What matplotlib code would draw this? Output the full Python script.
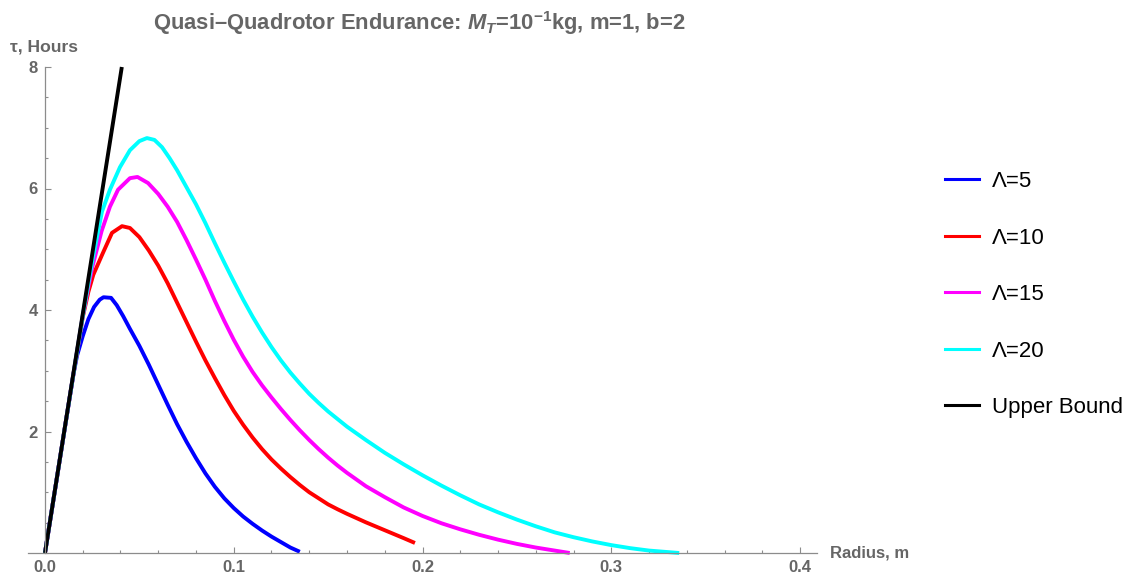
import matplotlib
matplotlib.use("Agg")
import matplotlib.pyplot as plt
from matplotlib.lines import Line2D
from matplotlib.ticker import MultipleLocator, FixedLocator

plt.rcParams['font.family'] = ['Liberation Sans', 'DejaVu Sans']
plt.rcParams['mathtext.fontset'] = 'custom'
plt.rcParams['mathtext.rm'] = 'Liberation Sans:bold'
plt.rcParams['mathtext.it'] = 'Liberation Sans:bold:italic'
plt.rcParams['mathtext.bf'] = 'Liberation Sans:bold'

# ---- data ----
labels = ["Λ=5", "Λ=10", "Λ=15", "Λ=20", "Upper Bound"]
colors = ["#0000ff", "#ff0000", "#ff00ff", "#00ffff", "#000000"]

x_l5 = [0, 0.005, 0.010, 0.015, 0.017, 0.020, 0.023, 0.026, 0.029, 0.031, 0.035, 0.038,
        0.0414, 0.045, 0.050, 0.055, 0.060, 0.065, 0.070, 0.075, 0.080, 0.085, 0.090,
        0.095, 0.100, 0.105, 0.110, 0.115, 0.120, 0.125, 0.130, 0.135]
y_l5 = [0, 0.98, 1.96, 2.93, 3.25, 3.57, 3.85, 4.05, 4.17, 4.21, 4.2, 4.08,
        3.9, 3.69, 3.41, 3.1, 2.77, 2.44, 2.12, 1.83, 1.56, 1.31, 1.09,
        0.9, 0.74, 0.6, 0.48, 0.37, 0.27, 0.18, 0.09, 0.02]

x_l10 = [0, 0.005, 0.010, 0.015, 0.020, 0.023, 0.0256, 0.0307, 0.0355, 0.0408, 0.045,
         0.050, 0.055, 0.060, 0.065, 0.070, 0.075, 0.080, 0.085, 0.090, 0.095, 0.100,
         0.105, 0.110, 0.115, 0.120, 0.125, 0.130, 0.135, 0.140, 0.145, 0.150, 0.155,
         0.160, 0.165, 0.170, 0.175, 0.180, 0.185, 0.190, 0.196]
y_l10 = [0, 0.98, 1.96, 2.93, 3.88, 4.3, 4.58, 4.94, 5.27, 5.38, 5.35,
         5.2, 4.98, 4.73, 4.44, 4.12, 3.8, 3.48, 3.17, 2.88, 2.6, 2.34,
         2.11, 1.90, 1.71, 1.54, 1.39, 1.25, 1.12, 1.0, 0.9, 0.8, 0.72,
         0.645, 0.575, 0.505, 0.44, 0.375, 0.31, 0.245, 0.165]

x_l15 = [0, 0.005, 0.010, 0.015, 0.020, 0.025, 0.030, 0.0344, 0.0387, 0.045, 0.049,
         0.0546, 0.060, 0.065, 0.070, 0.075, 0.080, 0.085, 0.090, 0.095, 0.100, 0.105,
         0.110, 0.115, 0.120, 0.125, 0.130, 0.135, 0.140, 0.145, 0.150, 0.155, 0.160,
         0.165, 0.170, 0.180, 0.190, 0.200, 0.210, 0.220, 0.230, 0.240, 0.250, 0.260,
         0.270, 0.278]
y_l15 = [0, 0.98, 1.96, 2.93, 3.9, 4.7, 5.3, 5.7, 5.98, 6.17, 6.19,
         6.09, 5.91, 5.7, 5.45, 5.15, 4.83, 4.5, 4.15, 3.82, 3.51, 3.23,
         2.98, 2.76, 2.56, 2.37, 2.19, 2.02, 1.86, 1.71, 1.57, 1.44, 1.32,
         1.21, 1.1, 0.92, 0.75, 0.61, 0.49, 0.39, 0.30, 0.22, 0.15, 0.09,
         0.04, 0]

x_l20 = [0, 0.005, 0.010, 0.015, 0.020, 0.025, 0.0302, 0.0344, 0.0397, 0.045, 0.050,
         0.054, 0.058, 0.062, 0.066, 0.070, 0.075, 0.080, 0.085, 0.090, 0.095, 0.100,
         0.105, 0.110, 0.115, 0.120, 0.125, 0.130, 0.135, 0.140, 0.145, 0.150, 0.160,
         0.170, 0.180, 0.190, 0.200, 0.210, 0.220, 0.230, 0.240, 0.250, 0.260, 0.270,
         0.280, 0.290, 0.300, 0.310, 0.320, 0.328, 0.336]
y_l20 = [0, 0.98, 1.96, 2.93, 3.9, 4.8, 5.62, 5.98, 6.35, 6.63, 6.78,
         6.83, 6.8, 6.68, 6.5, 6.3, 6.02, 5.74, 5.43, 5.1, 4.78, 4.47,
         4.17, 3.89, 3.63, 3.39, 3.17, 2.97, 2.79, 2.62, 2.47, 2.33, 2.08,
         1.86, 1.65, 1.46, 1.28, 1.11, 0.95, 0.8, 0.67, 0.55, 0.44, 0.34,
         0.26, 0.19, 0.13, 0.08, 0.04, 0.02, 0]

x_ub = [0, 0.0407]
y_ub = [0, 8]

x_ticks = [0.0, 0.1, 0.2, 0.3, 0.4]
x_ticklabels = ["0.0", "0.1", "0.2", "0.3", "0.4"]
y_ticks = [2, 4, 6, 8]
y_ticklabels = ["2", "4", "6", "8"]

series = [(x_l5, y_l5), (x_l10, y_l10), (x_l15, y_l15), (x_l20, y_l20), (x_ub, y_ub)]

# ---- figure ----
W, H = 1136, 582
fig = plt.figure(figsize=(W / 100, H / 100), dpi=100)
ax = fig.add_axes([28 / W, 1 - 553 / H, (817 - 28) / W, (553 - 67) / H])

for (xs, ys), c in zip(series, colors):
    ax.plot(xs, ys, color=c, lw=2.8, solid_joinstyle='round',
            solid_capstyle='butt', clip_on=False)

ax.set_xlim(-0.009, 0.409)
ax.set_ylim(0, 8)

gray_axis = "#8c8c8c"
gray_text = "#666666"
for s in ['top', 'right']:
    ax.spines[s].set_visible(False)
ax.spines['left'].set_position(('data', 0))
ax.spines['left'].set_bounds(0, 8)
for s in ['left', 'bottom']:
    ax.spines[s].set_color(gray_axis)
    ax.spines[s].set_linewidth(0.9)

ax.xaxis.set_major_locator(FixedLocator(x_ticks))
ax.set_xticklabels(x_ticklabels)
ax.xaxis.set_minor_locator(MultipleLocator(0.02))
ax.yaxis.set_major_locator(FixedLocator(y_ticks))
ax.set_yticklabels(y_ticklabels)
ax.yaxis.set_minor_locator(MultipleLocator(0.5))

ax.tick_params(which='both', direction='in', color=gray_axis, width=0.8)
ax.tick_params(which='major', length=4)
ax.tick_params(which='minor', length=2.2)
ax.tick_params(axis='x', which='major', pad=5, labelsize=12, labelcolor=gray_text)
ax.tick_params(axis='y', which='major', pad=5, labelsize=12, labelcolor=gray_text)
for lab in ax.get_xticklabels() + ax.get_yticklabels():
    lab.set_fontweight('bold')

fig.text(10 / W, 1 - 47 / H, "τ, Hours", ha='left', va='center', fontsize=12.6,
         fontweight='bold', color=gray_text)
fig.text(830 / W, 1 - 553 / H, "Radius, m", ha='left', va='center', fontsize=12,
         fontweight='bold', color=gray_text)
fig.text(419 / W, 1 - 23 / H,
         "Quasi\u2013Quadrotor Endurance: $M_T$=$10^{-1}$kg, m=1, b=2",
         ha='center', va='center', fontsize=15.8, fontweight='bold', color=gray_text)

handles = [Line2D([], [], color=c, lw=2.2) for c in colors]
fig.legend(handles, labels, loc='upper left', bbox_to_anchor=(945 / W, 1 - 171 / H),
           frameon=False, fontsize=16, handlelength=1.55, handletextpad=0.55,
           labelspacing=1.6, borderpad=0, borderaxespad=0)

fig.savefig("out.png", dpi=100)
